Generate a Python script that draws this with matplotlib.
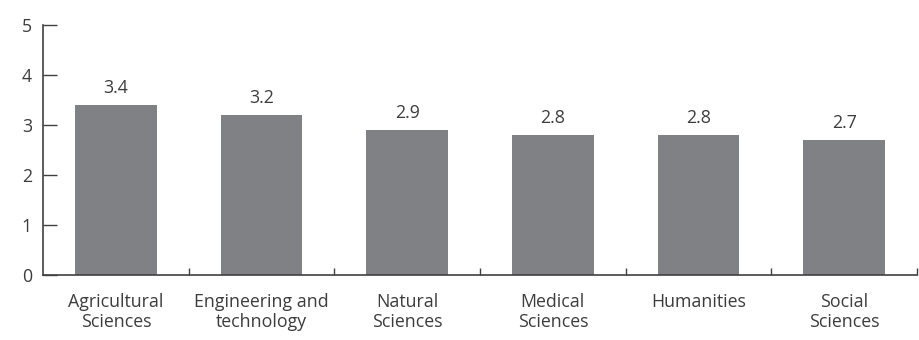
import matplotlib
matplotlib.use("Agg")
import matplotlib.pyplot as plt
import numpy as np

categories = ["Agricultural\nSciences", "Engineering and\ntechnology", "Natural\nSciences",
              "Medical\nSciences", "Humanities", "Social\nSciences"]
values = [3.4, 3.2, 2.9, 2.8, 2.8, 2.7]
y_ticks = [0, 1, 2, 3, 4, 5]

plt.rcParams['font.family'] = ['Open Sans', 'DejaVu Sans']

bar_color = "#808184"
text_color = "#3c3c3c"
axis_color = "#404040"
fs = 12.8

fig = plt.figure(figsize=(9.19, 3.4), dpi=100)
ax = fig.add_axes([43/919, 1 - 275/340, (917 - 43)/919, 250/340])

x = np.arange(len(categories))
ax.bar(x, values, width=0.56, color=bar_color, zorder=1)
for xi, v in zip(x, values):
    ax.text(xi, v + 0.16, f"{v:.1f}", ha="center", va="bottom",
            fontsize=fs, color=text_color)

ax.set_xlim(-0.5, len(categories) - 0.5)
ax.set_ylim(0, 5)
ax.set_yticks(y_ticks)
ax.set_yticklabels([str(t) for t in y_ticks])

# category labels at bar centres, tick marks at category boundaries
ax.set_xticks(x)
ax.set_xticklabels(categories, fontsize=fs, color=text_color, linespacing=1.15)
ax.tick_params(axis="x", which="major", length=0, pad=13)
ax.set_xticks(np.arange(0.5, len(categories), 1.0), minor=True)
ax.tick_params(axis="x", which="minor", direction="in", length=5, width=1,
               color=axis_color)
ax.tick_params(axis="y", direction="in", length=10, width=1, color=axis_color,
               labelsize=fs, labelcolor=text_color, pad=8)

for side in ("top", "right"):
    ax.spines[side].set_visible(False)
for side in ("left", "bottom"):
    ax.spines[side].set_color(axis_color)
    ax.spines[side].set_linewidth(1.2)
    ax.spines[side].set_zorder(3)

fig.savefig("out.png", dpi=100)
